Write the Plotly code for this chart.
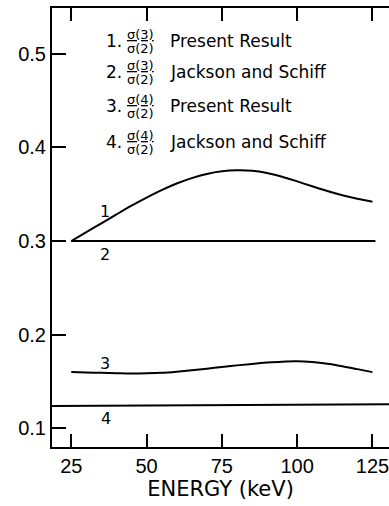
import plotly.graph_objects as go

energy = [25, 30, 35, 40, 45, 50, 55, 60, 65, 70, 75, 80, 85, 90, 95, 100, 105, 110, 115, 120, 125]
ratio1 = [0.300, 0.3095, 0.3190, 0.3285, 0.3378, 0.3465, 0.3545, 0.3615, 0.3673, 0.3717, 0.3745,
          0.3757, 0.3752, 0.3728, 0.3688, 0.3638, 0.3585, 0.3535, 0.3490, 0.3452, 0.3420]
ratio3 = [0.1600, 0.1597, 0.1592, 0.1588, 0.1585, 0.1587, 0.1593, 0.1605, 0.1620, 0.1637, 0.1655,
          0.1672, 0.1688, 0.1702, 0.1712, 0.1716, 0.1708, 0.1690, 0.1663, 0.1632, 0.1600]
energy2 = [25, 126]
ratio2 = [0.300, 0.300]
energy4 = [18.6, 131]
ratio4 = [0.1238, 0.1256]

curve_labels = ["1", "2", "3", "4"]
curve_label_x = [36.3, 36.3, 36.3, 36.6]
curve_label_y = [0.3317, 0.2853, 0.1688, 0.110]

legend_nums = ["1.", "2.", "3.", "4."]
legend_numer = ["σ(3)", "σ(3)", "σ(4)", "σ(4)"]
legend_denom = ["σ(2)", "σ(2)", "σ(2)", "σ(2)"]
legend_text = ["Present Result", "Jackson and Schiff", "Present Result", "Jackson and Schiff"]
legend_y = [0.514, 0.481, 0.444, 0.406]

xticks = [25, 50, 75, 100, 125]
yticks = [0.1, 0.2, 0.3, 0.4, 0.5]
ytick_text = ["0.1", "0.2", "0.3", "0.4", "0.5"]

FONT = "DejaVu Sans"
TICKFONT = "Liberation Sans"
line = dict(color="black", width=2)

fig = go.Figure()
fig.add_trace(go.Scatter(x=energy, y=ratio1, mode="lines", line=dict(shape="spline", **line)))
fig.add_trace(go.Scatter(x=energy2, y=ratio2, mode="lines", line=line))
fig.add_trace(go.Scatter(x=energy, y=ratio3, mode="lines", line=dict(shape="spline", **line)))
fig.add_trace(go.Scatter(x=energy4, y=ratio4, mode="lines", line=line))

for t, x, y in zip(curve_labels, curve_label_x, curve_label_y):
    fig.add_annotation(x=x, y=y, text=t, showarrow=False, font=dict(family=FONT, size=16, color="black"))

for n, nu, de, t, y in zip(legend_nums, legend_numer, legend_denom, legend_text, legend_y):
    fig.add_annotation(x=36.0, y=y, text=n, showarrow=False, xanchor="left",
                       font=dict(family=FONT, size=17, color="black"))
    fig.add_annotation(x=47.9, y=y, text="<u>" + nu + "</u>", showarrow=False,
                       xanchor="center", yanchor="bottom", borderpad=0, yshift=-2,
                       font=dict(family=FONT, size=13, color="black"))
    fig.add_annotation(x=47.9, y=y, text=de, showarrow=False,
                       xanchor="center", yanchor="top", borderpad=0, yshift=1,
                       font=dict(family=FONT, size=13, color="black"))
    fig.add_annotation(x=57.0, y=y, text=t, showarrow=False, xanchor="left",
                       font=dict(family=FONT, size=17, color="black"))

fig.update_layout(
    width=389, height=506,
    margin=dict(l=52, r=0, t=8, b=59, autoexpand=False),
    paper_bgcolor="white", plot_bgcolor="white",
    showlegend=False,
    font=dict(family=FONT, color="black"),
    xaxis=dict(range=[18.6, 130.5], tickvals=xticks, ticks="inside", ticklen=13, tickwidth=1.5,
               tickcolor="black", showline=True, linecolor="black", linewidth=2, mirror="ticks",
               showgrid=False, zeroline=False, automargin=False, ticklabeloverflow="allow",
               tickfont=dict(family=TICKFONT, size=20),
               title=dict(text="ENERGY (keV)", font=dict(family=FONT, size=21), standoff=5)),
    yaxis=dict(range=[0.08, 0.549], tickvals=yticks, ticktext=ytick_text, ticks="inside", ticklen=14,
               tickwidth=1.5, tickcolor="black", showline=True, linecolor="black", linewidth=2,
               showgrid=False, zeroline=False, automargin=False, tickfont=dict(family=TICKFONT, size=20)),
    yaxis2=dict(range=[0.08, 0.549], overlaying="y", side="right", tickvals=yticks, ticks="inside",
                ticklen=11, tickwidth=1.5, tickcolor="black", showticklabels=False, showline=False,
                showgrid=False, zeroline=False, automargin=False),
)

fig.write_html("out.html", config={"displayModeBar": False},
               post_script="document.body.style.margin='0';document.body.style.overflow='hidden';")
